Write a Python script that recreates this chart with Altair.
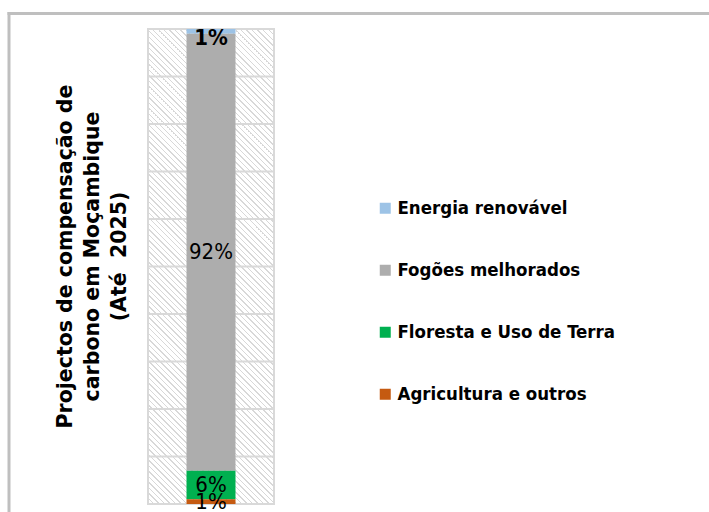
import altair as alt
import pandas as pd

# ---- data ----
categorias = ["Energia renovável", "Fogões melhorados", "Floresta e Uso de Terra", "Agricultura e outros"]
valores = [1, 92, 6, 1]            # percent
ordem_pilha = [4, 3, 2, 1]         # 1 = bottom of the stack
cores = ["#9dc3e6", "#adadad", "#00b050", "#c55a11"]
grelha = [0, 10, 20, 30, 40, 50, 60, 70, 80, 90, 100]
titulo_y = ["Projectos de compensação de", "carbono em Moçambique",
            "(Até\u00a0\u00a02025)" + "\u00a0" * 6]

df = pd.DataFrame({
    "categoria": categorias,
    "valor": valores,
    "ordem": ordem_pilha,
    "grupo": ["Moçambique"] * len(categorias),
})
grid_df = pd.DataFrame({"v": grelha})
one = pd.DataFrame({"k": [0]})

W, H = 126, 475

# hatch pattern (decoration) via a striped linear gradient
extent = W + H
period = 5.5 / extent
sw = 1.3 / extent
stops = []
t = 0.0
while t + sw < 1.0:
    stops += [
        alt.GradientStop(offset=t, color="#ffffff"),
        alt.GradientStop(offset=t, color="#d8d8d8"),
        alt.GradientStop(offset=t + sw, color="#d8d8d8"),
        alt.GradientStop(offset=t + sw, color="#ffffff"),
    ]
    t += period
k = extent / (W * W + H * H)
hatch = alt.LinearGradient(gradient="linear", stops=stops,
                           x1=0, y1=1, x2=k * W, y2=1 - k * H)

yscale = alt.Scale(domain=[0, 100], nice=False)
yaxis = alt.Axis(
    title=titulo_y, labels=False, ticks=False, domain=False, grid=False,
    titleFont="DejaVu Sans", titleFontWeight="bold", titleFontSize=20.5,
    titleColor="#000000", titleLineHeight=27, titleAngle=270,
    titleAlign="center", titleBaseline="middle", titleX=-83, titleY=227,
)

bg = alt.Chart(one).mark_rect(fill=hatch, stroke="#d9d9d9", strokeWidth=2).encode(
    x=alt.value(0), x2=alt.value("width"), y=alt.value(0), y2=alt.value("height")
)

grid = alt.Chart(grid_df).mark_rule(color="#d9d9d9", strokeWidth=2).encode(
    y=alt.Y("v:Q", scale=yscale, axis=yaxis, title=titulo_y),
    x=alt.value(0), x2=alt.value("width"),
)

base = alt.Chart(df).transform_stack(
    stack="valor", as_=["y0", "y1"], groupby=["grupo"],
    sort=[alt.SortField("ordem", order="ascending")],
).transform_calculate(
    mid="(datum.y0 + datum.y1) / 2",
    rotulo="datum.valor + '%'",
)

bar = base.mark_bar(size=49).encode(
    x=alt.X("grupo:N", axis=None),
    y=alt.Y("y0:Q", scale=yscale, axis=yaxis, title=titulo_y),
    y2="y1:Q",
    color=alt.Color("categoria:N",
                    scale=alt.Scale(domain=categorias, range=cores),
                    legend=alt.Legend(
                        title=None, orient="none", legendX=228, legendY=170,
                        direction="vertical", symbolType="square", symbolSize=121,
                        symbolStrokeWidth=0, labelFont="DejaVu Sans Condensed",
                        labelFontWeight="bold", labelFontSize=18.5, labelColor="#000000",
                        labelOffset=3, rowPadding=43, labelLimit=400, padding=0,
                    )),
)

txt_main = base.transform_filter(
    "datum.categoria != 'Energia renovável'"
).mark_text(font="DejaVu Sans Condensed", fontSize=22, color="#000000",
            baseline="middle").encode(
    x=alt.X("grupo:N", axis=None),
    y=alt.Y("mid:Q", scale=yscale, axis=yaxis, title=titulo_y),
    text="rotulo:N",
)

txt_top = base.transform_filter(
    "datum.categoria == 'Energia renovável'"
).mark_text(font="DejaVu Sans Condensed", fontSize=22, fontWeight="bold",
            color="#000000", baseline="middle", dy=7).encode(
    x=alt.X("grupo:N", axis=None),
    y=alt.Y("mid:Q", scale=yscale, axis=yaxis, title=titulo_y),
    text="rotulo:N",
)

frame_left = alt.Chart(one).mark_rule(color="#bfbfbf", strokeWidth=3).encode(
    x=alt.value(-139), y=alt.value(-17), y2=alt.value(485)
)
frame_top = alt.Chart(one).mark_rule(color="#bfbfbf", strokeWidth=3).encode(
    x=alt.value(-140.5), x2=alt.value(565), y=alt.value(-15.5)
)

chart = alt.layer(bg, grid, bar, txt_main, txt_top, frame_left, frame_top).properties(
    width=W, height=H,
    autosize=alt.AutoSizeParams(type="none"),
    padding={"left": 148, "top": 29, "right": 709 - 148 - W, "bottom": 512 - 29 - H},
    background="#ffffff",
).configure_view(stroke=None)

chart.save("out.html", embed_options={"renderer": "svg", "actions": False})
